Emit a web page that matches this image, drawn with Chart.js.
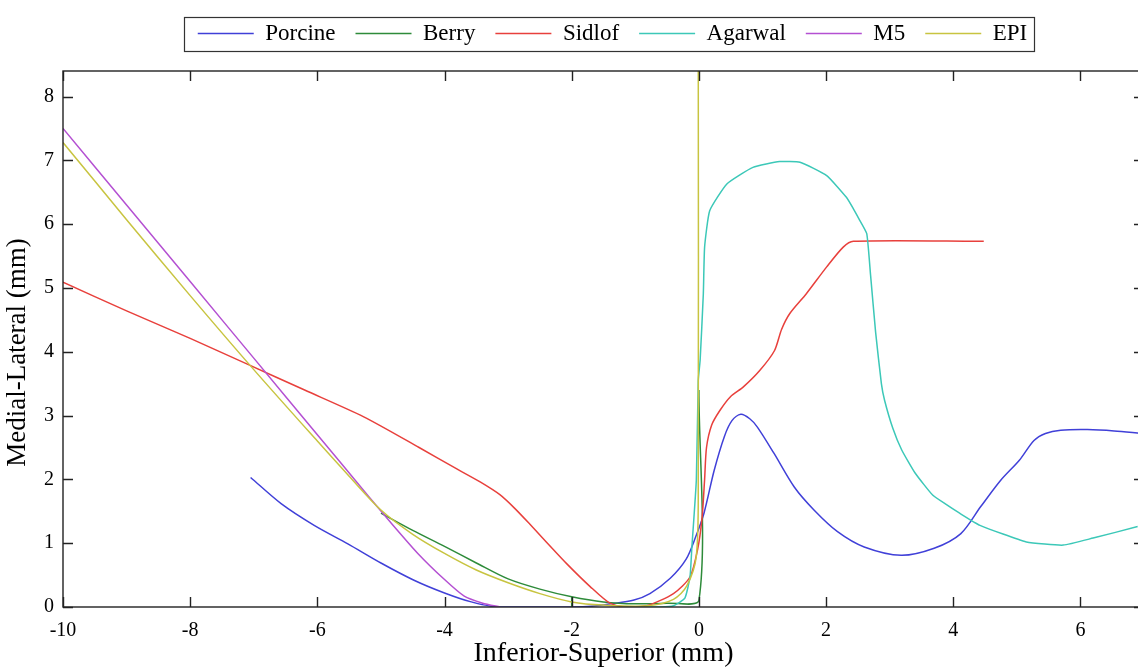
<!DOCTYPE html>
<html lang="en">
<head>
    <meta charset="UTF-8">
    <title>Medial-Lateral vs Inferior-Superior</title>
    <script src="https://cdn.jsdelivr.net/npm/chart.js"></script>
    <style>
        html, body { margin: 0; padding: 0; background: #fff; overflow: hidden; }
        #wrap { width: 1146px; height: 668px; }
    </style>
</head>
<body>
    <div id="wrap"><canvas id="profileChart" width="1146" height="668"></canvas></div>

    <script>
        // Profile data (mm)
        const porcineX = [-7.05, -6.57, -6.05, -5.52, -5.0, -4.48, -4.0, -3.58, -3.17, -2.6, -2.0, -1.7, -1.38, -1.02, -0.77, -0.45, -0.2, -0.05, 0.08, 0.24, 0.40, 0.52, 0.66, 0.80, 0.92, 1.18, 1.50, 1.81, 2.18, 2.60, 3.18, 3.70, 4.12, 4.43, 4.75, 5.04, 5.27, 5.45, 5.69, 6.11, 6.53, 6.95];
        const porcineY = [2.03, 1.62, 1.28, 0.99, 0.69, 0.42, 0.22, 0.08, 0.0, 0.0, 0.0, 0.01, 0.05, 0.11, 0.21, 0.45, 0.75, 1.1, 1.47, 2.14, 2.67, 2.92, 3.02, 2.95, 2.82, 2.41, 1.88, 1.52, 1.18, 0.94, 0.81, 0.92, 1.15, 1.57, 1.99, 2.30, 2.61, 2.72, 2.77, 2.78, 2.76, 2.72];

        const berryX = [-5.0, -4.5, -4.0, -3.5, -3.0, -2.5, -2.0, -1.5, -1.0, -0.5, 0.0, 0.0, -2.0, -2.0];
        const berryY = [1.47, 1.20, 0.95, 0.69, 0.44, 0.28, 0.16, 0.08, 0.05, 0.06, 0.10, 3.4, null, 0.16];
        const berryStubY = 0.0;

        const sidlofX = [-10.0, -9.0, -8.0, -7.11, -6.2, -5.27, -4.4, -3.8, -3.44, -3.13, -2.9, -2.66, -2.4, -2.08, -1.71, -1.40, -1.14, -0.82, -0.40, -0.14, -0.02, 0.05, 0.09, 0.12, 0.2, 0.33, 0.5, 0.70, 0.96, 1.19, 1.3, 1.43, 1.69, 2.01, 2.27, 2.43, 4.48];
        const sidlofY = [5.09, 4.64, 4.21, 3.81, 3.40, 2.98, 2.50, 2.16, 1.96, 1.76, 1.55, 1.30, 1.02, 0.68, 0.32, 0.06, 0.0, 0.02, 0.21, 0.47, 0.9, 1.4, 2.0, 2.5, 2.85, 3.08, 3.3, 3.45, 3.71, 4.02, 4.35, 4.60, 4.91, 5.33, 5.64, 5.73, 5.73];

        const agarwalX = [-1.2, -0.6, -0.40, -0.22, -0.14, -0.11, -0.04, -0.01, 0.02, 0.07, 0.09, 0.17, 0.44, 0.85, 1.27, 1.59, 2.01, 2.32, 2.43, 2.53, 2.64, 2.70, 2.78, 2.87, 2.92, 3.05, 3.19, 3.4, 3.68, 3.9, 4.10, 4.42, 5.15, 5.73, 6.20, 6.90];
        const agarwalY = [0.0, 0.0, 0.02, 0.14, 0.47, 0.94, 1.99, 3.55, 3.87, 4.91, 5.64, 6.21, 6.63, 6.89, 6.98, 6.97, 6.76, 6.42, 6.24, 6.06, 5.85, 5.2, 4.3, 3.5, 3.24, 2.8, 2.46, 2.1, 1.75, 1.6, 1.47, 1.28, 1.02, 0.97, 1.08, 1.26];

        const m5X = [-10.0, -9.0, -8.0, -7.0, -6.0, -5.2, -4.86, -4.42, -4.0, -3.69, -3.4, -3.13];
        const m5Y = [7.5, 6.3, 5.1, 3.9, 2.7, 1.74, 1.34, 0.84, 0.43, 0.17, 0.06, 0.0];

        const epiX = [-10.0, -9.0, -8.0, -7.0, -6.0, -5.5, -5.0, -4.5, -4.0, -3.5, -3.0, -2.5, -2.0, -1.5, -0.8, -0.4, -0.19, -0.04, -0.01, -0.01];
        const epiY = [7.28, 6.07, 4.88, 3.72, 2.6, 2.05, 1.52, 1.14, 0.84, 0.58, 0.38, 0.21, 0.08, 0.03, 0.02, 0.12, 0.33, 0.80, 2.0, 9.0];

        const xTickValues = [-10, -8, -6, -4, -2, 0, 2, 4, 6];
        const yTickValues = [0, 1, 2, 3, 4, 5, 6, 7, 8];

        const serif = '"Liberation Serif", "Times New Roman", serif';
        const legendShift = 9;   // legend sits a little right of the plot centre

        function toPoints(xs, ys) {
            return xs.map((x, i) => ({ x: x, y: ys[i] }));
        }

        // berry also has a short drop line at x = -2
        const berryPoints = toPoints(berryX, berryY);
        berryPoints.push({ x: -2.0, y: berryStubY });

        const series = [
            { label: 'Porcine', data: toPoints(porcineX, porcineY), color: '#4040d8', tension: 0.3 },
            { label: 'Berry', data: berryPoints, color: '#2e8b3a', tension: 0.3 },
            { label: 'Sidlof', data: toPoints(sidlofX, sidlofY), color: '#e8403c', tension: 0.25 },
            { label: 'Agarwal', data: toPoints(agarwalX, agarwalY), color: '#3cc8b8', tension: 0.15 },
            { label: 'M5', data: toPoints(m5X, m5Y), color: '#b450d2', tension: 0.2 },
            { label: 'EPI', data: toPoints(epiX, epiY), color: '#c8c440', tension: 0.3 }
        ];

        // box frame with inward ticks + border round the legend
        const framePlugin = {
            id: 'frame',
            afterLayout(chart) {
                const lg = chart.legend;
                lg.left += legendShift;
                lg.right += legendShift;
            },
            afterDraw(chart) {
                const { ctx, chartArea: a, scales } = chart;
                const tl = 10;
                ctx.save();
                ctx.strokeStyle = '#222';
                ctx.lineWidth = 1.4;
                ctx.strokeRect(a.left, a.top, a.right - a.left, a.bottom - a.top);
                ctx.beginPath();
                xTickValues.forEach(v => {
                    const px = Math.round(scales.x.getPixelForValue(v)) + 0.5;
                    ctx.moveTo(px, a.bottom); ctx.lineTo(px, a.bottom - tl);
                    ctx.moveTo(px, a.top); ctx.lineTo(px, a.top + tl);
                });
                yTickValues.forEach(v => {
                    const py = Math.round(scales.y.getPixelForValue(v)) + 0.5;
                    ctx.moveTo(a.left, py); ctx.lineTo(a.left + tl, py);
                    ctx.moveTo(a.right, py); ctx.lineTo(a.right - tl, py);
                });
                ctx.stroke();

                const hb = chart.legend.legendHitBoxes;
                if (hb && hb.length) {
                    const left = Math.min(...hb.map(b => b.left)) - 14;
                    const right = Math.max(...hb.map(b => b.left + b.width)) + 7;
                    const top = Math.min(...hb.map(b => b.top)) - 5.5;
                    const bottom = Math.max(...hb.map(b => b.top + b.height)) + 5.5;
                    ctx.lineWidth = 1.2;
                    ctx.strokeStyle = '#333';
                    ctx.strokeRect(Math.round(left) + 0.5, Math.round(top) + 0.5, Math.round(right - left), Math.round(bottom - top));
                }
                ctx.restore();
            }
        };

        const ctx = document.getElementById('profileChart').getContext('2d');
        new Chart(ctx, {
            type: 'line',
            data: {
                datasets: series.map((s, i) => ({
                    label: s.label,
                    data: s.data,
                    borderColor: s.color,
                    backgroundColor: s.color,
                    borderWidth: 1.5,
                    pointRadius: 0,
                    fill: false,
                    tension: s.tension,
                    order: series.length - i
                }))
            },
            options: {
                responsive: false,
                animation: false,
                events: [],
                layout: { padding: { top: 2, right: 2, bottom: 0, left: 0 } },
                scales: {
                    x: {
                        type: 'linear',
                        min: -10,
                        max: 7,
                        afterBuildTicks: s => { s.ticks = xTickValues.map(v => ({ value: v })); },
                        afterFit: s => { s.height = 61; },
                        grid: { display: false, drawTicks: false },
                        border: { display: false },
                        ticks: { padding: 12, color: '#000', autoSkip: false, maxRotation: 0, font: { family: serif, size: 20 } },
                        title: {
                            display: true,
                            text: 'Inferior-Superior (mm)',
                            color: '#000',
                            font: { family: serif, size: 28, lineHeight: 1 },
                            padding: { top: 0, bottom: 0 }
                        }
                    },
                    y: {
                        type: 'linear',
                        min: 0,
                        max: 8.4,
                        afterBuildTicks: s => { s.ticks = yTickValues.map(v => ({ value: v })); },
                        afterFit: s => { s.width = 63; },
                        grid: { display: false, drawTicks: false },
                        border: { display: false },
                        ticks: { padding: 9, color: '#000', autoSkip: false, font: { family: serif, size: 20 } },
                        title: {
                            display: true,
                            text: 'Medial-Lateral (mm)    ',
                            color: '#000',
                            font: { family: serif, size: 27, lineHeight: 1 },
                            padding: { top: 4, bottom: 0 }
                        }
                    }
                },
                plugins: {
                    tooltip: { enabled: false },
                    legend: {
                        position: 'top',
                        fullSize: false,
                        labels: {
                            usePointStyle: true,
                            pointStyle: 'line',
                            pointStyleWidth: 56,
                            padding: 20,
                            color: '#000',
                            font: { family: serif, size: 23 },
                            sort: (a, b) => a.datasetIndex - b.datasetIndex
                        }
                    },
                    // blank spacer between legend and plot
                    subtitle: {
                        display: true,
                        text: '',
                        weight: 500,
                        padding: 0,
                        font: { size: 16, lineHeight: 1 }
                    }
                }
            },
            plugins: [framePlugin]
        });
    </script>
</body>
</html>
